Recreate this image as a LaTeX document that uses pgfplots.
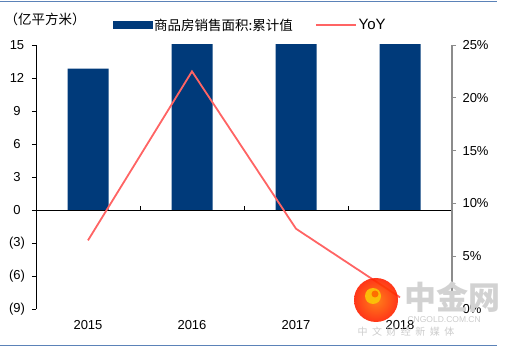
\documentclass[border=0pt]{standalone}
\usepackage{pgfplots}
\pgfplotsset{compat=1.18}
\usepackage{fontspec}
\setmainfont{Liberation Sans}
\newfontfamily\cjk{Noto Sans CJK SC}
\definecolor{barblue}{HTML}{003A7A}
\definecolor{yoyred}{HTML}{FF6464}
\definecolor{rule}{HTML}{5B82B8}
\begin{document}
\begin{tikzpicture}[x=1pt,y=1pt]
\useasboundingbox (0,0) rectangle (509,351);
\draw[rule,line width=1pt] (0,349) -- (497,349);
\draw[rule,line width=1pt] (0,6) -- (497,6);
\node[anchor=west,font=\cjk\fontsize{13.5}{15}\selectfont] at (1,332) {（亿平方米）};
\begin{axis}[at={(36pt,42pt)}, anchor=south west, scale only axis,
  width=416pt, height=264pt,
  xmin=-0.5, xmax=3.5, ymin=-9, ymax=15,
  axis y line*=left, axis x line*=bottom,
  x axis line style={draw=none},
  xtick={0,1,2,3}, xticklabels={2015,2016,2017,2018},
  major x tick style={draw=none},
  xticklabel style={font=\fontsize{13}{15}\selectfont, yshift=-4pt},
  ytick={-9,-6,-3,0,3,6,9,12,15},
  yticklabels={(9),(6),(3),0,3,6,9,12,15},
  yticklabel style={font=\fontsize{13}{15}\selectfont, anchor=center, xshift=-15pt},
  tick align=outside, major tick length=4pt,
  y axis line style={black, line width=0.8pt},
  every tick/.style={black, line width=0.6pt},
  ybar, bar width=41pt,
]
\addplot[fill=barblue, draw=none] coordinates {(0,12.85) (1,15.73) (2,16.94) (3,17.17)};
\draw[black, line width=0.8pt] (axis cs:-0.5,0) -- (axis cs:3.5,0);
\draw[black, line width=0.6pt] (axis cs:0.5,0) -- (axis cs:0.5,0.36);
\draw[black, line width=0.6pt] (axis cs:1.5,0) -- (axis cs:1.5,0.36);
\draw[black, line width=0.6pt] (axis cs:2.5,0) -- (axis cs:2.5,0.36);
\end{axis}
\begin{axis}[at={(36pt,42pt)}, anchor=south west, scale only axis,
  width=416pt, height=264pt,
  xmin=-0.5, xmax=3.5, ymin=0, ymax=25,
  axis y line*=right, axis x line=none,
  ytick={0,5,10,15,20,25},
  yticklabels={0\%,5\%,10\%,15\%,20\%,25\%},
  yticklabel style={font=\fontsize{13}{15}\selectfont, xshift=3pt},
  tick align=outside, major tick length=4pt,
  y axis line style={gray!90, line width=1.2pt},
  every tick/.style={gray!90, line width=0.6pt},
  legend style={draw=none, fill=none, at={(0.515,1.035)}, anchor=south,
    legend columns=2, font=\fontsize{13.5}{15}\selectfont,
    /tikz/every even column/.append style={column sep=20pt}},
]
\addlegendimage{legend image code/.code={\fill[barblue] (0pt,-3.5pt) rectangle (39pt,3.5pt);}}
\addlegendentry{\cjk 商品房销售面积:累计值}
\addplot[yoyred, line width=1.8pt, legend image code/.code={\draw[yoyred, line width=1.8pt] (0pt,0pt) -- (40pt,0pt);}] coordinates {(0,6.5) (1,22.5) (2,7.6) (3,1.1)};
\addlegendentry{\fontsize{15}{16}\selectfont YoY}
\end{axis}
% watermark
\shade[inner color=orange!90!red, outer color=red!75!orange, opacity=0.9] (376,51) circle (22);
\fill[yellow!60!orange, opacity=0.9] (373,55) circle (8);
\fill[orange!80!red, opacity=0.9] (375,57) circle (3.5);
\node[gray!35, font=\cjk\bfseries\fontsize{32}{34}\selectfont, anchor=west] at (401,54) {中金网};
\node[gray!40, font=\fontsize{8.5}{9}\selectfont, anchor=west] at (404,31) {CNGOLD.COM.CN};
\node[gray!40, font=\cjk\fontsize{10}{11}\selectfont, anchor=west] at (354,19) {中\ \ 文\ \ 财\ \ 经\ \ 新\ \ 媒\ \ 体};
\end{tikzpicture}
\end{document}
